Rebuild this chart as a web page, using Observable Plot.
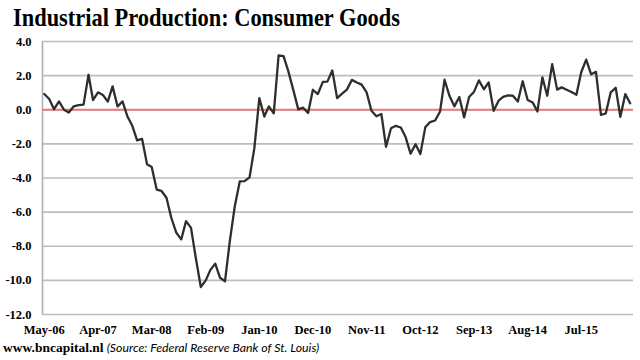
<!DOCTYPE html>
<html>
<head>
<meta charset="utf-8">
<script src="https://cdn.jsdelivr.net/npm/d3@7"></script>
<script src="https://cdn.jsdelivr.net/npm/@observablehq/plot@0.6"></script>
<style>
  html, body { margin: 0; padding: 0; background: #fff; }
  body { width: 640px; height: 360px; overflow: hidden; position: relative; }
  #title { position: absolute; left: 13px; top: 4px; height: 32px; white-space: nowrap;
    font-family: "Liberation Serif", serif; font-weight: bold; font-size: 24.5px; color: #000;
    transform-origin: 0 0; }
  #chart { position: absolute; left: 0; top: 36px; }
  #caption { position: absolute; left: 3px; top: 340px; white-space: nowrap; font-size: 12.5px; color: #000; }
  #caption b { font-family: "Liberation Serif", serif; font-weight: bold; font-size: 13.5px; }
  #caption i { font-family: "Lato", sans-serif; font-style: italic; font-size: 12.3px; }
</style>
</head>
<body>
<div id="title">Industrial Production: Consumer Goods</div>
<div id="chart"></div>
<div id="caption"><b>www.bncapital.nl</b> <i>(Source: Federal Reserve Bank of St. Louis)</i></div>
<script>
const values = [
  0.92, 0.63, 0.03, 0.49, 0.0, -0.16, 0.2, 0.27, 0.3, 2.05,
  0.57, 1.02, 0.87, 0.48, 1.37, 0.19, 0.49, -0.38, -0.94, -1.8,
  -1.71, -3.2, -3.35, -4.68, -4.76, -5.16, -6.33, -7.2, -7.6, -6.53,
  -6.92, -8.69, -10.39, -10.0, -9.4, -9.02, -9.85, -10.05, -7.7, -5.65,
  -4.2, -4.18, -3.96, -2.25, 0.68, -0.4, 0.2, -0.21, 3.18, 3.14,
  2.25, 1.15, 0.02, 0.12, -0.19, 1.17, 0.92, 1.63, 1.65, 2.3,
  0.68, 0.95, 1.18, 1.75, 1.6, 1.47, 1.02, -0.06, -0.38, -0.25,
  -2.17, -1.08, -0.94, -1.04, -1.6, -2.57, -2.02, -2.6, -1.02, -0.72,
  -0.63, -0.1, 1.76, 0.8, 0.2, 0.75, -0.45, 0.75, 1.06, 1.72,
  1.2, 1.6, -0.06, 0.53, 0.76, 0.84, 0.82, 0.48, 1.67, 0.57,
  0.43, -0.1, 1.9, 0.82, 2.67, 1.18, 1.31, 1.17, 1.04, 0.88,
  2.2, 2.94, 2.08, 2.22, -0.3, -0.22, 1.02, 1.29, -0.41, 0.92,
  0.38
];
const firstMonth = "May-06";
const xTickLabels = ["May-06","Apr-07","Mar-08","Feb-09","Jan-10","Dec-10","Nov-11","Oct-12","Sep-13","Aug-14","Jul-15"];
const yTicks = [-12, -10, -8, -6, -4, -2, 0, 2, 4];

const parse = d3.utcParse("%b-%y");
const start = parse(firstMonth);
const dates = values.map((v, i) => d3.utcMonth.offset(start, i));
const data = values.map((v, i) => ({date: dates[i], value: v}));
const xTicks = xTickLabels.map(parse);
const xDomain = [d3.utcDay.offset(dates[0], -11), d3.utcDay.offset(dates[dates.length - 1], 21)];

const chart = Plot.plot({
  width: 640,
  height: 306,
  marginLeft: 42,
  marginRight: 7,
  marginTop: 5,
  marginBottom: 28,
  style: {fontFamily: "Liberation Serif, serif", fontWeight: "bold", fontSize: "12.5px", color: "#000", background: "#fff"},
  x: {type: "utc", domain: xDomain},
  y: {domain: [-12, 4]},
  marks: [
    Plot.ruleY(yTicks, {stroke: "#bdbdbd", strokeWidth: 1.6}),
    Plot.ruleX([xDomain[0]], {stroke: "#b0b0b0", strokeWidth: 1.6}),
    Plot.ruleY([0], {stroke: "#e57a7a", strokeWidth: 2}),
    Plot.line(data, {x: "date", y: "value", stroke: "#2e2e2e", strokeWidth: 2.3, strokeLinejoin: "round"}),
    Plot.axisX({ticks: xTicks, tickFormat: (d) => xTickLabels[xTicks.findIndex(t => +t === +d)], tickSize: 0, tickPadding: 11, label: null}),
    Plot.axisY({ticks: yTicks, tickFormat: (d) => d.toFixed(1), tickSize: 0, tickPadding: 11, label: null})
  ]
});
document.getElementById("chart").appendChild(chart);

const t = document.getElementById("title");
const w = t.getBoundingClientRect().width;
t.style.transform = `scaleX(${387 / w})`;
</script>
</body>
</html>
